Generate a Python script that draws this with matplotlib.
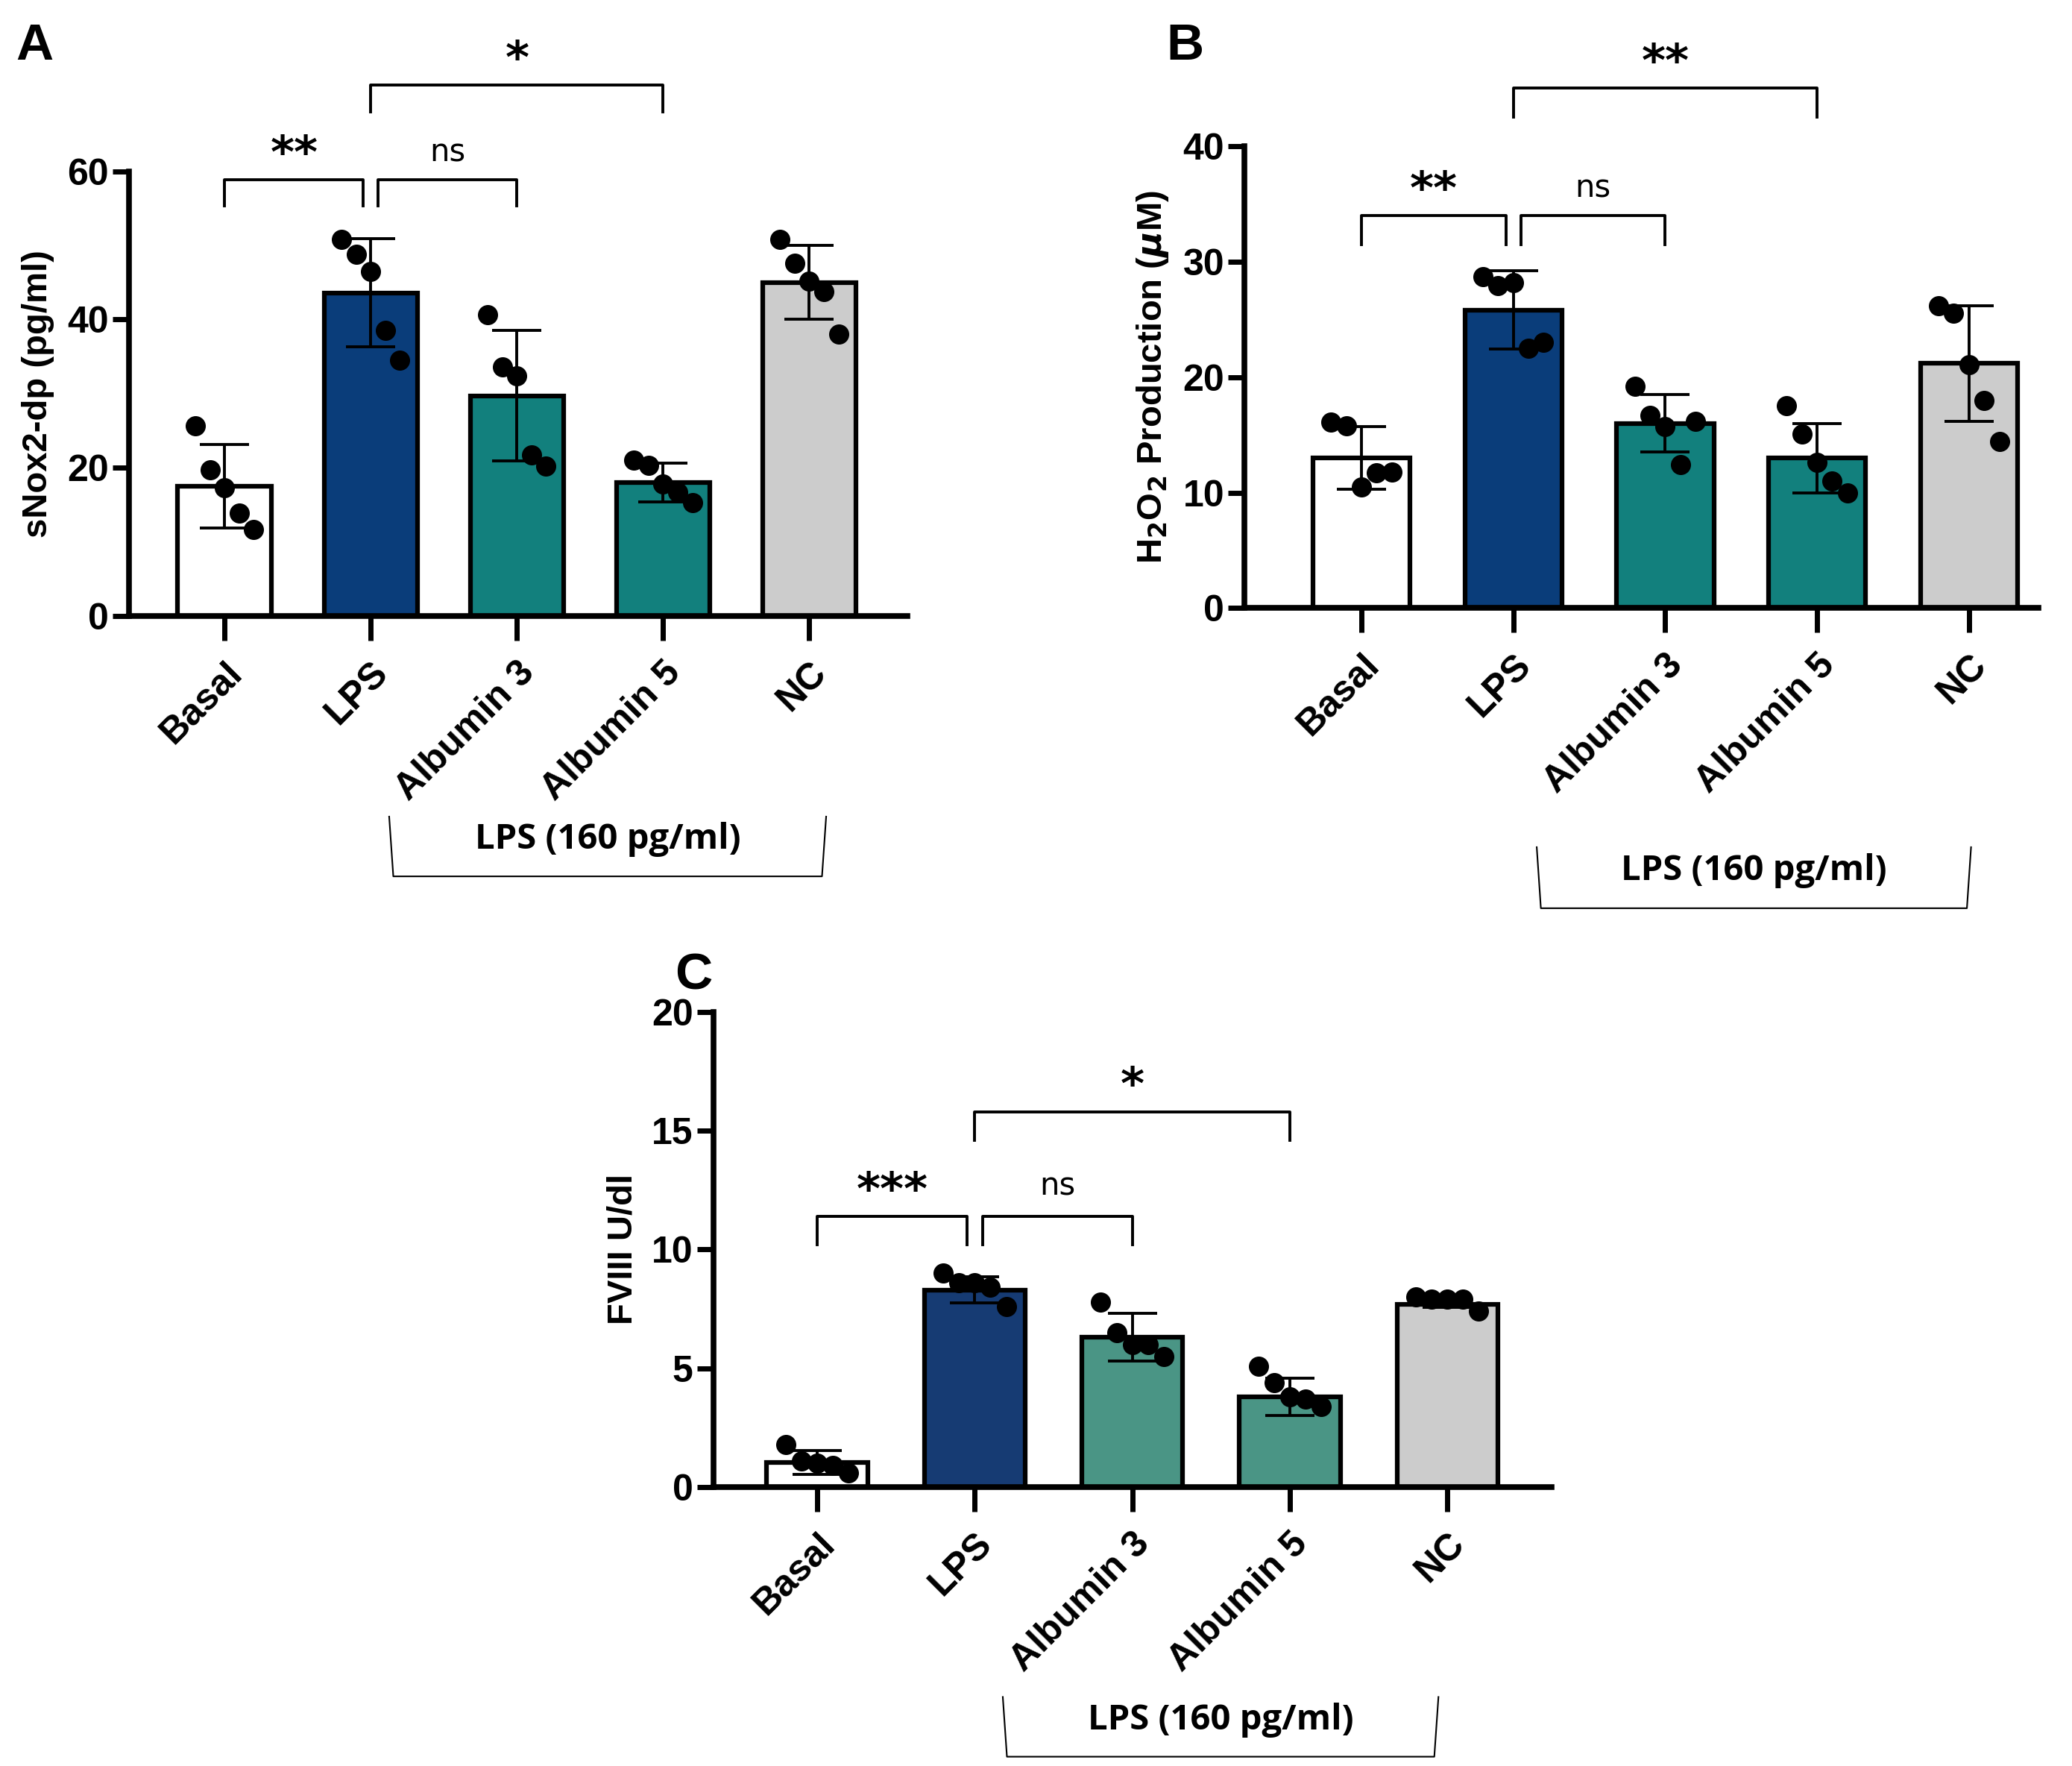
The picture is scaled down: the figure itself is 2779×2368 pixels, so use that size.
import matplotlib
matplotlib.use("Agg")
import matplotlib.pyplot as plt
from matplotlib.lines import Line2D
import numpy as np

categories = ["Basal", "LPS", "Albumin 3", "Albumin 5", "NC"]

a_means = [17.5, 43.6, 29.7, 18.0, 45.0]
a_sd = [5.6, 7.3, 8.8, 2.6, 5.0]
a_points = [[25.7, 19.7, 17.3, 13.9, 11.7],
            [50.8, 48.8, 46.5, 38.5, 34.5],
            [40.7, 33.6, 32.4, 21.7, 20.2],
            [21.0, 20.3, 17.8, 16.7, 15.3],
            [50.8, 47.6, 45.2, 43.8, 38.0]]

b_means = [13.0, 25.8, 16.0, 13.0, 21.2]
b_sd = [2.7, 3.4, 2.5, 3.0, 5.0]
b_points = [[16.1, 15.8, 10.5, 11.7, 11.8],
            [28.7, 27.9, 28.2, 22.5, 23.0],
            [19.2, 16.7, 15.7, 12.4, 16.2],
            [17.5, 15.1, 12.6, 11.0, 10.0],
            [26.2, 25.5, 21.1, 18.0, 14.4]]

c_means = [1.05, 8.3, 6.3, 3.8, 7.7]
c_sd = [0.5, 0.55, 1.0, 0.8, 0.15]
c_points = [[1.8, 1.1, 1.0, 0.9, 0.6],
            [9.0, 8.6, 8.6, 8.4, 7.6],
            [7.8, 6.5, 6.0, 6.0, 5.5],
            [5.1, 4.4, 3.8, 3.7, 3.4],
            [8.0, 7.9, 7.9, 7.9, 7.4]]

jitter = [-0.2, -0.1, 0.0, 0.1, 0.2]

colors_ab = ["white", "#0a3d7a", "#12807d", "#12807d", "#cccccc"]
colors_c = ["white", "#163b73", "#4a9585", "#4a9585", "#cccccc"]

FS = 36
plt.rcParams["font.family"] = "Liberation Sans"
plt.rcParams["font.weight"] = "bold"

fig = plt.figure(figsize=(27.79, 23.68), dpi=100)


def panel(rect, xlim, ylim, yticks, means, sd, pts, colors, ylabel, letter, letter_pos,
          brackets, lps_box):
    ax = fig.add_axes(rect)
    x = np.arange(len(categories))
    ax.bar(x, means, width=0.64, color=colors, edgecolor="black", linewidth=4.5, zorder=2)
    ax.errorbar(x, means, yerr=sd, fmt="none", ecolor="black", elinewidth=2.8,
                capsize=24, capthick=2.8, zorder=3)
    for i, p in enumerate(pts):
        jx = [i + j for j in jitter]
        ax.scatter(jx, p, s=340, color="black", zorder=4, clip_on=False)
    ax.set_xlim(*xlim)
    ax.set_ylim(*ylim)
    ax.set_yticks(yticks)
    ax.set_xticks(x)
    ax.set_xticklabels(categories, rotation=45, ha="right", rotation_mode="anchor",
                       fontsize=FS, fontweight="bold")
    ax.tick_params(axis="y", labelsize=FS, width=5, length=16)
    ax.tick_params(axis="x", width=5, length=24, pad=14)
    for lab in ax.get_yticklabels():
        lab.set_fontweight("bold")
    for s in ["top", "right"]:
        ax.spines[s].set_visible(False)
    for s in ["left", "bottom"]:
        ax.spines[s].set_linewidth(5.5)
    ax.set_ylabel(ylabel, fontsize=34, fontweight="bold", labelpad=12)
    fig.text(letter_pos[0], letter_pos[1], letter, fontsize=50, fontweight="bold",
             family="Liberation Sans")
    for (x1, x2, yb, h, txt, tfs, tw, toff) in brackets:
        ax.plot([x1, x1, x2, x2], [yb, yb + h, yb + h, yb], color="black", lw=2.8,
                clip_on=False)
        ax.text((x1 + x2) / 2, yb + h + toff, txt, ha="center", va="bottom",
                fontsize=tfs, fontweight=tw, family="DejaVu Sans", clip_on=False)
    lx1, lx2, ytop, ybot = lps_box
    fig.add_artist(Line2D([lx1, lx1 + 0.002, lx2 - 0.002, lx2], [ytop, ybot, ybot, ytop],
                          color="black", lw=1.5))
    fig.text((lx1 + lx2) / 2, (ytop + ybot) / 2 + 0.004, "LPS (160 pg/ml)", ha="center",
             va="center", fontsize=34, fontweight="bold", family="Open Sans")
    return ax


W, H = 1560.0, 1330.0

panel([97 / W, 1 - 464 / H, (683 - 97) / W, 335 / H], (-0.655, 4.67), (0, 60),
      [0, 20, 40, 60], a_means, a_sd, a_points, colors_ab, "sNox2-dp (pg/ml)", "A",
      (12 / W, 1 - 45 / H),
      [(0, 0.95, 55.3, 3.6, "**", 44, "bold", 0.3),
       (1.05, 2.0, 55.3, 3.6, "ns", 30, "normal", 1.5),
       (1.0, 3.0, 68.0, 3.6, "*", 44, "bold", 0.3)],
      (293 / W, 622 / W, 1 - 615 / H, 1 - 660 / H))

panel([937 / W, 1 - 458 / H, (1535 - 937) / W, 348 / H], (-0.77, 4.46), (0, 40),
      [0, 10, 20, 30, 40], b_means, b_sd, b_points, colors_ab,
      r"H$_2$O$_2$ Production ($\mu$M)", "B", (878 / W, 1 - 45 / H),
      [(0, 0.95, 31.5, 2.5, "**", 44, "bold", 0.2),
       (1.05, 2.0, 31.5, 2.5, "ns", 30, "normal", 1.0),
       (1.0, 3.0, 42.5, 2.5, "**", 44, "bold", 0.2)],
      (1157 / W, 1484 / W, 1 - 638 / H, 1 - 684 / H))

panel([537 / W, 1 - 1120 / H, (1168 - 537) / W, 358 / H], (-0.66, 4.66), (0, 20),
      [0, 5, 10, 15, 20], c_means, c_sd, c_points, colors_c, "FVIII U/dl", "C",
      (508 / W, 1 - 745 / H),
      [(0, 0.95, 10.2, 1.2, "***", 44, "bold", 0.1),
       (1.05, 2.0, 10.2, 1.2, "ns", 30, "normal", 0.6),
       (1.0, 3.0, 14.6, 1.2, "*", 44, "bold", 0.1)],
      (755 / W, 1083 / W, 1 - 1278 / H, 1 - 1323 / H))

fig.savefig("out.png", dpi=100, facecolor="white")
